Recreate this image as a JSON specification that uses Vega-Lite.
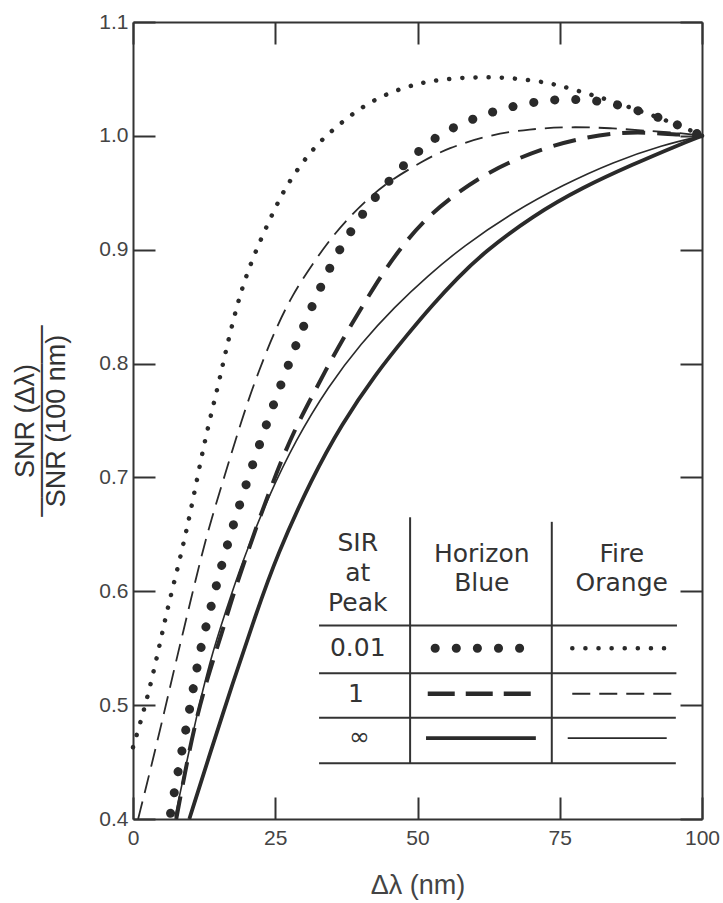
{
  "$schema": "https://vega.github.io/schema/vega-lite/v6.json",
  "width": 569,
  "height": 797,
  "autosize": {"type": "none"},
  "padding": {"left": 133, "top": 22, "right": 21, "bottom": 84},
  "background": "white",
  "config": {"view": {"stroke": null}, "font": "Liberation Sans"},
  "datasets": {
    "curves": [
      {"s":"fo_dot","g":"c","x":0,"y":0.463},{"s":"fo_dot","g":"c","x":2.5,"y":0.505},{"s":"fo_dot","g":"c","x":4.6,"y":0.551},{"s":"fo_dot","g":"c","x":6.2,"y":0.588},{"s":"fo_dot","g":"c","x":8.6,"y":0.635},{"s":"fo_dot","g":"c","x":10.5,"y":0.679},{"s":"fo_dot","g":"c","x":12.7,"y":0.735},{"s":"fo_dot","g":"c","x":14.9,"y":0.779},{"s":"fo_dot","g":"c","x":16.3,"y":0.811},{"s":"fo_dot","g":"c","x":18.3,"y":0.852},{"s":"fo_dot","g":"c","x":20.2,"y":0.882},{"s":"fo_dot","g":"c","x":22.7,"y":0.912},{"s":"fo_dot","g":"c","x":25.3,"y":0.940},{"s":"fo_dot","g":"c","x":27.2,"y":0.958},{"s":"fo_dot","g":"c","x":30.1,"y":0.979},{"s":"fo_dot","g":"c","x":33.0,"y":0.996},{"s":"fo_dot","g":"c","x":36.7,"y":1.012},{"s":"fo_dot","g":"c","x":40.4,"y":1.026},{"s":"fo_dot","g":"c","x":44.6,"y":1.037},{"s":"fo_dot","g":"c","x":48.7,"y":1.044},{"s":"fo_dot","g":"c","x":52.0,"y":1.048},{"s":"fo_dot","g":"c","x":57.1,"y":1.051},{"s":"fo_dot","g":"c","x":63.6,"y":1.052},{"s":"fo_dot","g":"c","x":70.1,"y":1.049},{"s":"fo_dot","g":"c","x":74.5,"y":1.045},{"s":"fo_dot","g":"c","x":78.6,"y":1.039},{"s":"fo_dot","g":"c","x":83.3,"y":1.032},{"s":"fo_dot","g":"c","x":89.1,"y":1.022},{"s":"fo_dot","g":"c","x":96.7,"y":1.008},{"s":"fo_dot","g":"c","x":100,"y":1.0},
      {"s":"fo_dot","g":"k","x":77.2,"y":0.550},{"s":"fo_dot","g":"k","x":93.8,"y":0.550},

      {"s":"hb_dot","g":"c","x":6.6,"y":0.405},{"s":"hb_dot","g":"c","x":7.6,"y":0.433},{"s":"hb_dot","g":"c","x":8.6,"y":0.460},{"s":"hb_dot","g":"c","x":9.6,"y":0.487},{"s":"hb_dot","g":"c","x":10.5,"y":0.512},{"s":"hb_dot","g":"c","x":11.3,"y":0.535},{"s":"hb_dot","g":"c","x":12.3,"y":0.559},{"s":"hb_dot","g":"c","x":13.9,"y":0.590},{"s":"hb_dot","g":"c","x":15.3,"y":0.618},{"s":"hb_dot","g":"c","x":17.0,"y":0.648},{"s":"hb_dot","g":"c","x":18.3,"y":0.669},{"s":"hb_dot","g":"c","x":20.2,"y":0.699},{"s":"hb_dot","g":"c","x":22.3,"y":0.730},{"s":"hb_dot","g":"c","x":24.6,"y":0.763},{"s":"hb_dot","g":"c","x":27.1,"y":0.796},{"s":"hb_dot","g":"c","x":29.3,"y":0.825},{"s":"hb_dot","g":"c","x":32.3,"y":0.860},{"s":"hb_dot","g":"c","x":35.1,"y":0.890},{"s":"hb_dot","g":"c","x":38.7,"y":0.920},{"s":"hb_dot","g":"c","x":42.9,"y":0.949},{"s":"hb_dot","g":"c","x":47.5,"y":0.974},{"s":"hb_dot","g":"c","x":50.1,"y":0.986},{"s":"hb_dot","g":"c","x":52.7,"y":0.997},{"s":"hb_dot","g":"c","x":56.0,"y":1.007},{"s":"hb_dot","g":"c","x":63.1,"y":1.022},{"s":"hb_dot","g":"c","x":70.6,"y":1.030},{"s":"hb_dot","g":"c","x":74.5,"y":1.032},{"s":"hb_dot","g":"c","x":78.0,"y":1.032},{"s":"hb_dot","g":"c","x":81.2,"y":1.031},{"s":"hb_dot","g":"c","x":84.7,"y":1.028},{"s":"hb_dot","g":"c","x":88.2,"y":1.023},{"s":"hb_dot","g":"c","x":91.4,"y":1.018},{"s":"hb_dot","g":"c","x":94.0,"y":1.013},{"s":"hb_dot","g":"c","x":97.0,"y":1.007},{"s":"hb_dot","g":"c","x":100,"y":1.0},
      {"s":"hb_dot","g":"k","x":53.1,"y":0.550},{"s":"hb_dot","g":"k","x":69.4,"y":0.550},

      {"s":"fo_dash","g":"c","x":0.9,"y":0.400},{"s":"fo_dash","g":"c","x":3.3,"y":0.448},{"s":"fo_dash","g":"c","x":5.6,"y":0.496},{"s":"fo_dash","g":"c","x":7.4,"y":0.535},{"s":"fo_dash","g":"c","x":8.8,"y":0.564},{"s":"fo_dash","g":"c","x":10.9,"y":0.608},{"s":"fo_dash","g":"c","x":12.7,"y":0.644},{"s":"fo_dash","g":"c","x":14.3,"y":0.672},{"s":"fo_dash","g":"c","x":16.2,"y":0.703},{"s":"fo_dash","g":"c","x":17.9,"y":0.731},{"s":"fo_dash","g":"c","x":20.0,"y":0.764},{"s":"fo_dash","g":"c","x":22.0,"y":0.792},{"s":"fo_dash","g":"c","x":24.6,"y":0.825},{"s":"fo_dash","g":"c","x":27.9,"y":0.860},{"s":"fo_dash","g":"c","x":32.3,"y":0.893},{"s":"fo_dash","g":"c","x":35.1,"y":0.912},{"s":"fo_dash","g":"c","x":38.1,"y":0.929},{"s":"fo_dash","g":"c","x":41.1,"y":0.944},{"s":"fo_dash","g":"c","x":45.2,"y":0.961},{"s":"fo_dash","g":"c","x":51.0,"y":0.978},{"s":"fo_dash","g":"c","x":55.2,"y":0.989},{"s":"fo_dash","g":"c","x":62.7,"y":1.001},{"s":"fo_dash","g":"c","x":69.8,"y":1.006},{"s":"fo_dash","g":"c","x":76.3,"y":1.008},{"s":"fo_dash","g":"c","x":83.8,"y":1.007},{"s":"fo_dash","g":"c","x":91.4,"y":1.004},{"s":"fo_dash","g":"c","x":97.4,"y":1.002},{"s":"fo_dash","g":"c","x":100,"y":1.0},
      {"s":"fo_dash","g":"k","x":77.2,"y":0.510},{"s":"fo_dash","g":"k","x":94.9,"y":0.510},

      {"s":"hb_dash","g":"c","x":7.6,"y":0.400},{"s":"hb_dash","g":"c","x":9.1,"y":0.440},{"s":"hb_dash","g":"c","x":10.9,"y":0.484},{"s":"hb_dash","g":"c","x":13.2,"y":0.526},{"s":"hb_dash","g":"c","x":15.6,"y":0.563},{"s":"hb_dash","g":"c","x":17.4,"y":0.594},{"s":"hb_dash","g":"c","x":20.0,"y":0.632},{"s":"hb_dash","g":"c","x":22.0,"y":0.661},{"s":"hb_dash","g":"c","x":24.1,"y":0.689},{"s":"hb_dash","g":"c","x":26.0,"y":0.714},{"s":"hb_dash","g":"c","x":28.8,"y":0.746},{"s":"hb_dash","g":"c","x":32.2,"y":0.778},{"s":"hb_dash","g":"c","x":34.8,"y":0.803},{"s":"hb_dash","g":"c","x":38.1,"y":0.832},{"s":"hb_dash","g":"c","x":41.6,"y":0.861},{"s":"hb_dash","g":"c","x":44.5,"y":0.884},{"s":"hb_dash","g":"c","x":48.2,"y":0.909},{"s":"hb_dash","g":"c","x":52.2,"y":0.931},{"s":"hb_dash","g":"c","x":57.5,"y":0.952},{"s":"hb_dash","g":"c","x":62.2,"y":0.967},{"s":"hb_dash","g":"c","x":67.5,"y":0.980},{"s":"hb_dash","g":"c","x":73.3,"y":0.991},{"s":"hb_dash","g":"c","x":79.8,"y":0.999},{"s":"hb_dash","g":"c","x":85.6,"y":1.003},{"s":"hb_dash","g":"c","x":90.9,"y":1.003},{"s":"hb_dash","g":"c","x":96.1,"y":1.001},{"s":"hb_dash","g":"c","x":100,"y":1.0},

      {"s":"fo_solid","g":"c","x":7.4,"y":0.402},{"s":"fo_solid","g":"c","x":9.6,"y":0.454},{"s":"fo_solid","g":"c","x":11.7,"y":0.502},{"s":"fo_solid","g":"c","x":13.9,"y":0.546},{"s":"fo_solid","g":"c","x":17.5,"y":0.601},{"s":"fo_solid","g":"c","x":20.0,"y":0.636},{"s":"fo_solid","g":"c","x":23.8,"y":0.683},{"s":"fo_solid","g":"c","x":28.5,"y":0.732},{"s":"fo_solid","g":"c","x":34.3,"y":0.780},{"s":"fo_solid","g":"c","x":40.1,"y":0.818},{"s":"fo_solid","g":"c","x":46.0,"y":0.850},{"s":"fo_solid","g":"c","x":51.8,"y":0.877},{"s":"fo_solid","g":"c","x":58.0,"y":0.903},{"s":"fo_solid","g":"c","x":66.8,"y":0.933},{"s":"fo_solid","g":"c","x":75.6,"y":0.957},{"s":"fo_solid","g":"c","x":84.4,"y":0.977},{"s":"fo_solid","g":"c","x":93.1,"y":0.992},{"s":"fo_solid","g":"c","x":100,"y":1.0},
      {"s":"fo_solid","g":"k","x":76.4,"y":0.471},{"s":"fo_solid","g":"k","x":93.8,"y":0.471},

      {"s":"hb_solid","g":"c","x":9.9,"y":0.400},{"s":"hb_solid","g":"c","x":13.5,"y":0.457},{"s":"hb_solid","g":"c","x":17.5,"y":0.519},{"s":"hb_solid","g":"c","x":21.4,"y":0.577},{"s":"hb_solid","g":"c","x":25.3,"y":0.632},{"s":"hb_solid","g":"c","x":31.5,"y":0.700},{"s":"hb_solid","g":"c","x":36.7,"y":0.747},{"s":"hb_solid","g":"c","x":42.5,"y":0.790},{"s":"hb_solid","g":"c","x":48.3,"y":0.826},{"s":"hb_solid","g":"c","x":52.7,"y":0.852},{"s":"hb_solid","g":"c","x":57.0,"y":0.875},{"s":"hb_solid","g":"c","x":61.5,"y":0.897},{"s":"hb_solid","g":"c","x":70.3,"y":0.930},{"s":"hb_solid","g":"c","x":79.1,"y":0.955},{"s":"hb_solid","g":"c","x":87.9,"y":0.975},{"s":"hb_solid","g":"c","x":95.4,"y":0.991},{"s":"hb_solid","g":"c","x":100,"y":1.0},
      {"s":"hb_solid","g":"k","x":51.5,"y":0.471},{"s":"hb_solid","g":"k","x":70.8,"y":0.471}
    ],
    "keys": [
      {"s":"hb_dash","x":51.8,"y":0.510},{"s":"hb_dash","x":70.3,"y":0.510}
    ],
    "grid": [
      {"x":32.7,"x2":95.6,"y":0.570,"y2":0.570},
      {"x":32.7,"x2":95.5,"y":0.528,"y2":0.528},
      {"x":32.7,"x2":95.4,"y":0.489,"y2":0.489},
      {"x":32.7,"x2":95.4,"y":0.449,"y2":0.449},
      {"x":48.7,"x2":48.7,"y":0.665,"y2":0.449},
      {"x":73.6,"x2":73.6,"y":0.661,"y2":0.449}
    ],
    "labels": [
      {"x":39.5,"y":0.642,"t":"SIR"},
      {"x":39.5,"y":0.616,"t":"at"},
      {"x":39.5,"y":0.590,"t":"Peak"},
      {"x":61.3,"y":0.633,"t":"Horizon"},
      {"x":61.3,"y":0.607,"t":"Blue"},
      {"x":85.9,"y":0.633,"t":"Fire"},
      {"x":85.9,"y":0.607,"t":"Orange"},
      {"x":39.5,"y":0.550,"t":"0.01"},
      {"x":39.2,"y":0.510,"t":"1"},
      {"x":39.8,"y":0.472,"t":"∞"}
    ]
  },
  "resolve": {"axis": {"x": "independent", "y": "independent"}},
  "layer": [
    {
      "data": {"name": "curves"},
      "transform": [{"filter": "datum.s === 'fo_solid'"}],
      "mark": {"type": "line", "color": "#2a2a2a", "strokeWidth": 1.6, "interpolate": "basis"},
      "encoding": {
        "x": {"field": "x", "type": "quantitative", "scale": {"domain": [0, 100], "nice": false, "zero": false},
          "axis": {"orient": "bottom", "values": [0, 25, 50, 75, 100], "tickSize": -22, "tickWidth": 2, "tickColor": "#333", "labelPadding": 30, "labelFontSize": 21, "labelColor": "#444", "labelFlush": false, "labelOverlap": false, "domainColor": "#333", "domainWidth": 2, "grid": false, "title": "Δλ (nm)", "titleFontSize": 27, "titleFontWeight": "normal", "titleColor": "#444", "titlePadding": 24}},
        "y": {"field": "y", "type": "quantitative", "scale": {"domain": [0.4, 1.1], "nice": false, "zero": false},
          "axis": {"orient": "left", "values": [0.4, 0.5, 0.6, 0.7, 0.8, 0.9, 1.0, 1.1], "format": ".1f", "tickSize": -22, "tickWidth": 2, "tickColor": "#333", "labelPadding": 27, "labelFontSize": 21, "labelColor": "#444", "labelFlush": false, "labelOverlap": false, "domainColor": "#333", "domainWidth": 2, "grid": false,
            "title": ["SNR (Δλ)", "──────────", "SNR (100 nm)"], "titleFontSize": 27, "titleFontWeight": "normal", "titleColor": "#333", "titleLineHeight": 15.5, "titlePadding": 28}},
        "detail": {"field": "g"}
      }
    },
    {
      "data": {"name": "curves"},
      "transform": [{"filter": "datum.s === 'hb_solid'"}],
      "mark": {"type": "line", "color": "#2a2a2a", "strokeWidth": 3.8, "interpolate": "basis"},
      "encoding": {
        "x": {"field": "x", "type": "quantitative",
          "axis": {"orient": "top", "values": [0, 25, 50, 75, 100], "labels": false, "tickSize": -22, "tickWidth": 2, "tickColor": "#333", "domainColor": "#333", "domainWidth": 2, "grid": false, "title": null}},
        "y": {"field": "y", "type": "quantitative",
          "axis": {"orient": "right", "values": [0.4, 0.5, 0.6, 0.7, 0.8, 0.9, 1.0, 1.1], "labels": false, "tickSize": -22, "tickWidth": 2, "tickColor": "#333", "domainColor": "#333", "domainWidth": 2, "grid": false, "title": null}},
        "detail": {"field": "g"}
      }
    },
    {
      "data": {"name": "curves"},
      "transform": [{"filter": "datum.s === 'hb_dash'"}],
      "mark": {"type": "line", "color": "#2a2a2a", "strokeWidth": 4, "strokeDash": [23, 12], "interpolate": "basis"},
      "encoding": {
        "x": {"field": "x", "type": "quantitative", "axis": null},
        "y": {"field": "y", "type": "quantitative", "axis": null},
        "detail": {"field": "g"}
      }
    },
    {
      "data": {"name": "keys"},
      "mark": {"type": "line", "color": "#2a2a2a", "strokeWidth": 4.5, "strokeDash": [27, 11]},
      "encoding": {
        "x": {"field": "x", "type": "quantitative", "axis": null},
        "y": {"field": "y", "type": "quantitative", "axis": null}
      }
    },
    {
      "data": {"name": "curves"},
      "transform": [{"filter": "datum.s === 'fo_dash'"}],
      "mark": {"type": "line", "color": "#2a2a2a", "strokeWidth": 1.8, "strokeDash": [18, 9], "interpolate": "basis"},
      "encoding": {
        "x": {"field": "x", "type": "quantitative", "axis": null},
        "y": {"field": "y", "type": "quantitative", "axis": null},
        "detail": {"field": "g"}
      }
    },
    {
      "data": {"name": "curves"},
      "transform": [{"filter": "datum.s === 'hb_dot'"}],
      "mark": {"type": "line", "color": "#2a2a2a", "strokeWidth": 9, "strokeDash": [0.1, 21], "strokeCap": "round", "interpolate": "basis"},
      "encoding": {
        "x": {"field": "x", "type": "quantitative", "axis": null},
        "y": {"field": "y", "type": "quantitative", "axis": null},
        "detail": {"field": "g"}
      }
    },
    {
      "data": {"name": "curves"},
      "transform": [{"filter": "datum.s === 'fo_dot'"}],
      "mark": {"type": "line", "color": "#2a2a2a", "strokeWidth": 4.5, "strokeDash": [0.1, 13], "strokeCap": "round", "interpolate": "basis"},
      "encoding": {
        "x": {"field": "x", "type": "quantitative", "axis": null},
        "y": {"field": "y", "type": "quantitative", "axis": null},
        "detail": {"field": "g"}
      }
    },
    {
      "data": {"name": "grid"},
      "mark": {"type": "rule", "color": "#333", "strokeWidth": 2},
      "encoding": {
        "x": {"field": "x", "type": "quantitative", "axis": null},
        "x2": {"field": "x2"},
        "y": {"field": "y", "type": "quantitative", "axis": null},
        "y2": {"field": "y2"}
      }
    },
    {
      "data": {"name": "labels"},
      "mark": {"type": "text", "font": "DejaVu Sans", "fontSize": 25, "color": "#333", "align": "center", "baseline": "middle"},
      "encoding": {
        "x": {"field": "x", "type": "quantitative", "axis": null},
        "y": {"field": "y", "type": "quantitative", "axis": null},
        "text": {"field": "t"}
      }
    }
  ]
}
